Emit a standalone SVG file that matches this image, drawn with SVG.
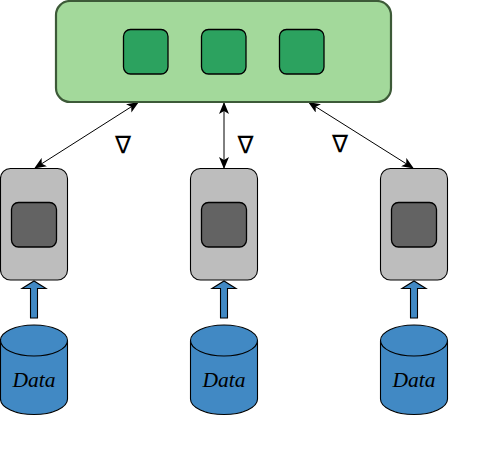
<svg xmlns="http://www.w3.org/2000/svg" width="482" height="450" viewBox="0 0 482 450">
<style>
.top{fill:#a3d99b;stroke:#3d5a38;stroke-width:2.2}
.in{fill:#2ca25f;stroke:#000;stroke-width:1.3}
.gray{fill:#bdbdbd;stroke:#000;stroke-width:1.1}
.dark{fill:#636363;stroke:#000;stroke-width:1.3}
.blue{fill:#4189c4;stroke:#000;stroke-width:1.1}
.edge{fill:none;stroke:#000;stroke-width:1;marker-start:url(#h);marker-end:url(#h)}
.data{font-family:"Liberation Serif",serif;font-style:italic;font-size:21.5px;text-anchor:middle;fill:#000}
.nabla{font-family:"DejaVu Sans",sans-serif;font-size:24px;text-anchor:middle;fill:#000}
</style>
<defs>
<marker id="h" viewBox="0 0 12 10" refX="11" refY="5" markerWidth="12" markerHeight="10" markerUnits="userSpaceOnUse" orient="auto-start-reverse"><path d="M0 0L12 5L0 10L3 5Z" fill="#000"/></marker>
<g id="cyl"><path class="blue" d="M0.5 340.5V399C0.5 407.5 15.5 414.5 34 414.5S67.5 407.5 67.5 399V340.5"/><ellipse class="blue" cx="34" cy="340.5" rx="33.5" ry="15.5"/></g>
<path id="up" class="blue" d="M30.500 318V288.500H22L34 281L46 288.500H37.500V318Z"/>
</defs>
<g id="connectors">
<path class="edge" d="M138 102.500L35 168"/>
<path class="edge" d="M224 103V168"/>
<path class="edge" d="M309 102.500L413 168"/>
<use href="#up"/><use href="#up" x="190"/><use href="#up" x="380"/>
</g>
<g id="server">
<rect class="top" x="56" y="1" width="335" height="101" rx="14"/>
<rect class="in" x="123.500" y="29.500" width="44.500" height="44.500" rx="7"/>
<rect class="in" x="201.500" y="29.500" width="44.500" height="44.500" rx="7"/>
<rect class="in" x="279.500" y="29.500" width="44.500" height="44.500" rx="7"/>
</g>
<g id="client1"><rect class="gray" x="0.500" y="168.500" width="67" height="111.500" rx="10"/><rect class="dark" x="11.500" y="202.500" width="45" height="44.500" rx="7"/></g>
<g id="client2"><rect class="gray" x="190.500" y="168.500" width="67" height="111.500" rx="10"/><rect class="dark" x="201.500" y="202.500" width="45" height="44.500" rx="7"/></g>
<g id="client3"><rect class="gray" x="380.500" y="168.500" width="67" height="111.500" rx="10"/><rect class="dark" x="391.500" y="202.500" width="45" height="44.500" rx="7"/></g>
<g id="data1"><use href="#cyl"/><text class="data" x="34" y="387">Data</text></g>
<g id="data2"><use href="#cyl" x="190"/><text class="data" x="224" y="387">Data</text></g>
<g id="data3"><use href="#cyl" x="380"/><text class="data" x="414" y="387">Data</text></g>
<g id="labels">
<text class="nabla" x="123" y="153">∇</text>
<text class="nabla" x="245.500" y="153">∇</text>
<text class="nabla" x="340" y="152">∇</text>
</g>
</svg>
